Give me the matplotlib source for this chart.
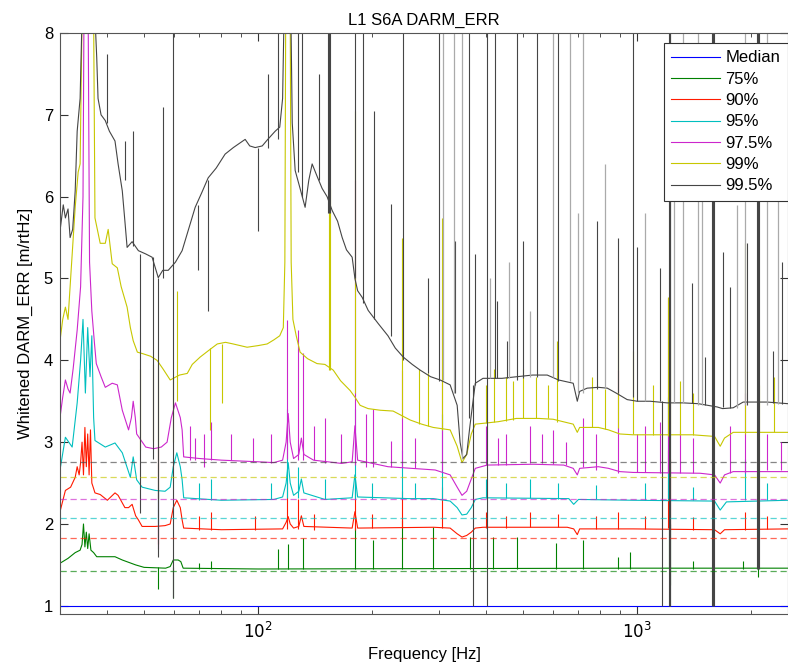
import numpy as np
import matplotlib
matplotlib.use('Agg')
import matplotlib.pyplot as plt
from matplotlib.ticker import LogLocator, NullFormatter, FixedLocator

plt.rcParams['font.family'] = ['Liberation Sans', 'DejaVu Sans']
plt.rcParams['font.size'] = 12

# --- Daten ---
labels = ['Median', '75%', '90%', '95%', '97.5%', '99%', '99.5%']

# Referenzwerte (gestrichelte Linien)
ref_levels = [1.42, 1.826, 2.07, 2.305, 2.577, 2.76]

p50 = [(30, 1.0), (2500, 1.0)]

p75 = [(30, 1.52), (31.5, 1.58), (32.9, 1.65), (33.9, 1.68), (34.3, 1.75), (34.6, 2.0), (34.9, 1.72),
       (35.2, 1.9), (35.5, 1.7), (35.8, 1.88), (36.2, 1.68), (36.8, 1.65), (37.5, 1.6), (41.9, 1.6),
       (43.8, 1.56), (47.5, 1.5), (50, 1.47), (57, 1.46), (58.6, 1.48), (59.7, 1.56), (61.5, 1.56),
       (62.5, 1.54), (63.4, 1.46), (100, 1.45), (1000, 1.46), (2500, 1.46)]

p90 = [(30, 2.15), (31.0, 2.41), (32.0, 2.45), (32.9, 2.57), (33.3, 2.7), (33.7, 2.6), (34.0, 2.75),
       (34.3, 3.0), (34.6, 2.6), (34.9, 3.18), (35.2, 2.7), (35.5, 3.1), (35.8, 2.6), (36.1, 3.15),
       (36.4, 2.5), (36.7, 2.45), (37.1, 2.38), (38.3, 2.36), (40.0, 2.29), (41.9, 2.38), (42.7, 2.35),
       (44.5, 2.2), (45.5, 2.2), (46.5, 2.24), (47.5, 2.1), (48.3, 2.05), (49.4, 1.97), (53.5, 1.97),
       (56.8, 1.98), (58.6, 2.0), (59.7, 2.2), (61, 2.29), (62.3, 2.2), (63.0, 2.05), (63.6, 1.95),
       (80, 1.93), (116, 1.94), (118.5, 2.02), (120, 2.09), (121.5, 2.0), (124, 1.95), (128, 1.97),
       (130, 2.1), (132, 1.97), (177, 1.95), (180, 2.15), (183, 1.95), (290, 1.96), (321, 1.95),
       (335, 1.88), (345, 1.84), (355, 1.86), (365, 1.9), (374, 1.95), (392, 1.96), (654, 1.96),
       (680, 1.94), (695, 1.87), (705, 1.94), (975, 1.94), (1600, 1.93), (1656, 1.88), (1700, 1.93),
       (2500, 1.94)]

p95 = [(30, 2.66), (31.0, 3.06), (32.3, 2.94), (33.3, 3.48), (34.0, 4.0), (34.5, 4.5), (35.0, 3.6),
       (35.5, 4.4), (36.0, 3.8), (36.4, 4.3), (36.8, 3.3), (37.1, 3.02), (39.5, 2.94), (41.9, 2.99),
       (43.8, 2.87), (46.0, 2.57), (46.8, 2.82), (47.8, 2.54), (49.4, 2.45), (53.5, 2.41), (56.8, 2.4),
       (58.6, 2.45), (59.7, 2.7), (61.0, 2.87), (62.3, 2.7), (63.0, 2.54), (63.6, 2.32), (80, 2.29),
       (110, 2.3), (116, 2.33), (118.5, 2.5), (120, 2.75), (121.5, 2.5), (124, 2.35), (128, 2.4),
       (130, 2.55), (132, 2.38), (150, 2.3), (177, 2.32), (180, 2.6), (183, 2.33), (250, 2.31),
       (290, 2.31), (321, 2.28), (335, 2.2), (345, 2.11), (355, 2.12), (365, 2.2), (374, 2.3),
       (392, 2.32), (660, 2.31), (680, 2.24), (700, 2.3), (975, 2.29), (1600, 2.28), (1656, 2.17),
       (1720, 2.27), (2500, 2.29)]

p975 = [(30, 3.3), (30.5, 3.55), (31.0, 3.76), (31.5, 3.65), (31.9, 3.6), (32.5, 3.9), (33.3, 4.37),
        (34.0, 4.9), (34.5, 6.0), (34.7, 8.2), (35.6, 8.2), (35.9, 5.2), (36.4, 4.6), (37.0, 4.2),
        (37.4, 3.96), (38.5, 3.8), (39.5, 3.67), (40.5, 3.7), (41.2, 3.72), (42.5, 3.7), (43.8, 3.39),
        (45.5, 3.15), (46.3, 3.3), (46.8, 3.5), (47.4, 3.3), (47.8, 3.1), (50.5, 2.94), (53, 2.92),
        (55.5, 2.94), (57.5, 3.0), (59, 3.3), (60.5, 3.48), (62.3, 3.3), (63.0, 3.15), (63.6, 2.82),
        (70, 2.8), (80, 2.78), (100, 2.76), (110, 2.75), (116, 2.78), (118.5, 3.0), (120, 3.35),
        (121.5, 3.0), (124, 2.8), (128, 2.85), (130, 3.05), (132, 2.85), (140, 2.78), (166, 2.74),
        (177, 2.76), (180, 3.2), (183, 2.78), (220, 2.7), (293, 2.66), (321, 2.6), (335, 2.45),
        (345, 2.35), (355, 2.4), (365, 2.55), (374, 2.68), (402, 2.72), (532, 2.73), (640, 2.72),
        (678, 2.68), (695, 2.6), (705, 2.68), (790, 2.7), (840, 2.68), (900, 2.64), (975, 2.63),
        (1466, 2.62), (1600, 2.6), (1656, 2.5), (1700, 2.6), (1792, 2.64), (2500, 2.64)]

p99 = [(30, 4.24), (30.5, 4.5), (31.0, 4.65), (31.5, 4.5), (32.0, 5.0), (32.9, 5.87), (33.5, 6.3),
       (33.9, 6.4), (34.3, 8.2), (36.8, 8.2), (37.1, 5.74), (38.3, 5.43), (39.5, 5.43), (40.2, 5.6),
       (41.2, 5.18), (42.5, 5.13), (43.5, 4.9), (45.1, 4.65), (46.0, 4.4), (46.8, 4.24), (48, 4.1),
       (49.7, 4.08), (52, 4.05), (54.1, 4.0), (56, 3.9), (58.6, 3.76), (62, 3.82), (65.0, 3.84),
       (67, 3.95), (70.3, 4.04), (74, 4.12), (78.0, 4.2), (82, 4.22), (85.9, 4.2), (93.5, 4.16),
       (100, 4.18), (105.6, 4.2), (110, 4.25), (114, 4.3), (116.5, 4.4), (117.6, 5.2), (118.2, 8.2),
       (121.5, 8.2), (122.2, 5.2), (123.5, 4.5), (126, 4.3), (129, 4.1), (135, 4.02),
       (143, 3.96), (150, 3.95), (157.8, 3.88), (165, 3.75), (174.9, 3.63), (180, 3.55), (185.8, 3.45),
       (195, 3.41), (210, 3.39), (227, 3.38), (252, 3.27), (270, 3.22), (289.5, 3.18), (321, 3.15),
       (335, 2.95), (345, 2.75), (355, 2.85), (365, 3.1), (374, 3.22), (392, 3.23), (430, 3.25),
       (480, 3.29), (550, 3.29), (600, 3.28), (678, 3.22), (695, 3.12), (705, 3.18), (790, 3.18),
       (840, 3.15), (900, 3.1), (975, 3.09), (1100, 3.09), (1400, 3.09), (1600, 3.07), (1656, 2.95),
       (1700, 3.05), (1792, 3.12), (2200, 3.12), (2500, 3.12)]

p995 = [(30, 5.58), (30.6, 5.9), (31.0, 5.74), (31.5, 5.85), (31.9, 5.5), (32.4, 5.6), (32.9, 6.07),
        (33.3, 6.8), (33.9, 7.2), (34.3, 8.2), (37.1, 8.2), (37.5, 7.7), (37.8, 7.2), (38.5, 7.0),
        (39.5, 6.93), (40.5, 6.8), (41.9, 6.68), (42.7, 6.4), (43.8, 6.07), (44.5, 5.7), (45.1, 5.38),
        (46.5, 5.45), (48.3, 5.34), (50.5, 5.3), (52.5, 5.26), (54.5, 5.01), (56, 5.1), (57.9, 5.1),
        (60.5, 5.2), (63.0, 5.34), (65.5, 5.6), (68.2, 5.87), (71, 6.05), (73.8, 6.23), (77.5, 6.35),
        (81.8, 6.52), (86, 6.6), (92.4, 6.70), (95, 6.62), (98.2, 6.6), (102.5, 6.62), (106, 6.7),
        (110.9, 6.8), (114, 6.85), (116, 7.2), (117, 8.2), (122, 8.2), (123, 6.9), (125.2, 6.32),
        (129, 6.1), (133.0, 5.87), (136, 6.2), (138.8, 6.4), (143, 6.25), (147.5, 6.1), (152, 6.0),
        (156.8, 5.83), (162, 5.7), (166.6, 5.5), (171, 5.35), (177.0, 5.26), (180, 5.0), (183, 4.85),
        (188.1, 4.77), (195.1, 4.61), (207.3, 4.45), (220, 4.3), (230, 4.15), (241.4, 4.04), (255, 3.95),
        (267.6, 3.88), (285, 3.8), (302, 3.76), (321, 3.7), (335, 3.45), (341, 3.0), (347, 2.8),
        (355, 2.85), (362, 3.2), (374, 3.72), (392, 3.78), (440, 3.78), (482, 3.8), (530, 3.82),
        (579, 3.82), (620, 3.76), (678, 3.72), (695, 3.5), (705, 3.62), (738, 3.66), (790, 3.67),
        (834, 3.66), (880, 3.6), (941, 3.52), (1000, 3.5), (1082, 3.5), (1200, 3.48), (1322, 3.48),
        (1450, 3.47), (1626, 3.43), (1680, 3.41), (1792, 3.42), (1904, 3.49), (2203, 3.49), (2500, 3.47)]

# Linien / Spikes: (Frequenz, unten, oben)
s75 = [(54.5, 1.2, 1.47), (59.7, 1.1, 1.47), (70, 1.45, 1.52), (75, 1.45, 1.55), (113, 1.45, 1.7),
       (120, 1.45, 1.75), (131, 1.45, 1.83), (180, 1.45, 1.96), (201, 1.45, 1.8), (240, 1.45, 2.05),
       (290, 1.45, 1.96), (362, 1.45, 1.84), (417, 1.45, 1.84), (482, 1.45, 1.84), (610, 1.45, 1.77),
       (720, 1.45, 1.8), (890, 1.45, 1.6), (960, 1.45, 1.66), (1215, 1.45, 2.05), (1221, 1.25, 2.0),
       (1586, 1.3, 2.29), (2084, 1.35, 2.05), (1400, 1.45, 1.55), (1900, 1.45, 1.55)]

s90 = [(54.5, 1.75, 1.97), (70, 1.93, 2.1), (75, 1.93, 2.15), (98, 1.93, 2.1), (119.5, 1.94, 2.5),
       (127.5, 1.94, 2.3), (140, 1.93, 2.12), (180, 1.93, 2.54), (200, 1.95, 2.12), (240, 1.95, 2.4),
       (306, 1.95, 2.45), (400, 1.95, 2.15), (450, 1.95, 2.1), (520, 1.96, 2.15), (620, 1.96, 2.12),
       (780, 1.94, 2.1), (890, 1.94, 2.15), (1050, 1.94, 2.1), (1207, 1.95, 2.9), (1220, 1.95, 2.8),
       (1400, 1.93, 2.08), (1586, 1.94, 2.7), (1922, 1.93, 2.15), (2084, 1.95, 2.5), (2200, 1.94, 2.1)]

s95 = [(54.5, 2.0, 2.41), (70, 2.29, 2.5), (75, 2.29, 2.55), (108, 2.3, 2.5), (119.5, 2.32, 3.4),
       (127.5, 2.32, 2.7), (150, 2.3, 2.55), (180, 2.3, 3.4), (200, 2.31, 2.5), (240, 2.3, 2.9),
       (260, 2.31, 2.5), (306, 2.3, 3.35), (400, 2.32, 2.55), (450, 2.32, 2.5), (520, 2.32, 2.55),
       (620, 2.31, 2.5), (780, 2.3, 2.48), (1050, 2.29, 2.5), (1207, 2.3, 3.55), (1400, 2.29, 2.45),
       (1586, 2.29, 3.18), (1922, 2.29, 2.8), (2200, 2.29, 2.5)]

s975 = [(54.5, 1.7, 2.94), (66, 2.78, 3.2), (68, 2.78, 3.05), (72, 2.7, 3.1), (75, 2.78, 3.25),
        (85, 2.78, 3.1), (97, 2.76, 3.05), (108, 2.74, 3.1), (119.5, 2.8, 4.49), (127.5, 2.78, 4.37),
        (131, 2.78, 4.09), (140, 2.78, 3.2), (150, 2.75, 3.3), (165, 2.75, 3.1), (180, 2.72, 6.2),
        (192, 2.7, 3.35), (201, 2.7, 3.4), (224, 2.7, 3.02), (240, 2.7, 3.88), (260, 2.68, 3.05),
        (306, 2.65, 4.5), (400, 2.72, 3.2), (450, 2.72, 3.1), (520, 2.74, 3.2), (560, 2.74, 3.1),
        (650, 2.72, 3.0), (780, 2.66, 3.1), (890, 2.62, 3.88), (1050, 2.63, 3.2), (1207, 2.62, 4.76),
        (1400, 2.62, 3.05), (1586, 2.6, 4.33), (1922, 2.62, 3.6), (2200, 2.66, 3.1), (2400, 2.66, 3.0),
        (430, 2.72, 3.05), (600, 2.73, 3.15), (720, 2.7, 3.3), (1000, 2.63, 3.1), (1150, 2.62, 3.25),
        (1300, 2.62, 3.15), (1760, 2.62, 3.2)]

s99 = [(48.8, 2.9, 3.9), (52.8, 3.02, 3.95), (54.5, 2.3, 3.95), (59.7, 3.0, 3.8), (61, 3.5, 4.85),
       (74.7, 3.15, 4.15), (80.3, 3.48, 4.2), (154, 3.88, 6.1), (155, 3.88, 6.1), (180, 3.6, 7.05),
       (240, 3.3, 5.5), (265, 3.22, 3.9), (280, 3.2, 3.85), (306, 3.15, 5.74), (420, 3.25, 3.9),
       (450, 3.26, 3.8), (500, 3.29, 3.9), (540, 3.29, 3.8), (616, 3.25, 4.24), (760, 3.18, 3.8),
       (890, 3.17, 4.37), (975, 3.1, 4.12), (1100, 3.09, 3.7), (1207, 3.08, 4.77), (1218, 3.08, 4.5),
       (1300, 3.09, 3.75), (1586, 3.02, 5.01), (1922, 3.1, 5.43), (2300, 3.12, 3.8),
       (400, 3.24, 3.7), (470, 3.27, 3.75), (580, 3.29, 3.7), (820, 3.16, 3.65), (1400, 3.09, 3.6),
       (2100, 3.12, 3.7)]

s995 = [(40, 6.9, 7.74), (44.5, 6.2, 6.68), (46.8, 5.4, 6.8), (48.8, 2.13, 5.3), (52.8, 2.8, 5.26),
        (54.5, 1.6, 5.0), (56, 5.0, 7.1), (59.7, 1.1, 8.2), (69.5, 5.1, 5.9), (73.8, 4.6, 6.2),
        (100, 5.58, 6.6), (106, 6.6, 7.5), (112.9, 6.7, 8.2), (127.5, 6.3, 8.2), (130.6, 6.0, 8.2),
        (145, 6.2, 7.5), (153, 5.8, 8.2), (154, 5.8, 8.2), (155, 5.8, 8.2), (180, 5.0, 8.2),
        (189, 4.7, 8.2), (202, 4.5, 7.05), (224, 4.3, 5.91), (241, 4.0, 8.2), (281, 3.85, 5.01),
        (300, 3.75, 8.2), (331, 3.6, 5.46), (360, 3.3, 8.2), (369, 1.0, 3.7), (374, 3.7, 5.3),
        (402, 1.0, 8.2), (422, 3.78, 8.2), (427, 3.78, 4.73), (454, 3.78, 4.24), (482, 3.76, 8.2),
        (500, 3.78, 5.46), (544, 3.8, 8.2), (619, 3.75, 8.2), (785, 3.65, 5.7), (891, 3.6, 5.5),
        (975, 3.55, 8.2), (1000, 3.5, 5.38), (1150, 3.5, 5.13), (1166, 1.0, 3.5), (1212, 1.0, 8.2),
        (1218, 1.0, 8.2), (1224, 1.0, 8.2), (1397, 3.48, 4.95), (1511, 3.45, 4.04), (1578, 1.0, 8.2),
        (1586, 1.0, 8.2), (1594, 1.0, 8.2), (1686, 3.43, 5.32), (1760, 3.42, 4.89), (1951, 3.45, 5.43),
        (2075, 1.45, 8.2), (2084, 1.45, 8.2), (2093, 1.45, 8.2), (2285, 3.48, 4.12), (2413, 3.47, 5.2)]

# blasse (graue) Linien bis oben
faint = [(307, 3.76, 8.2), (329, 3.6, 8.2), (345, 2.8, 8.2), (600, 3.8, 8.2), (666, 3.75, 8.2),
         (720, 3.6, 8.2), (1322, 3.48, 8.2), (1448, 3.45, 8.2), (1922, 3.45, 8.2), (2203, 3.45, 8.2),
         (410, 3.78, 5.0), (460, 3.78, 5.2), (520, 3.8, 4.6), (700, 3.6, 5.8), (820, 3.66, 6.4),
         (1050, 3.5, 5.8), (1250, 3.48, 6.3), (1480, 3.45, 6.9), (1830, 3.42, 5.9), (2350, 3.47, 6.2)]

series = [p50, p75, p90, p95, p975, p99, p995]
spikes = [[], s75, s90, s95, s975, s99, s995]
colors = [(0, 0, 1), (0, 0.5, 0), (1, 0.1, 0), (0, 0.75, 0.75), (0.8, 0.15, 0.8),
          (0.78, 0.78, 0), (0.27, 0.27, 0.27)]

fig = plt.figure(figsize=(7.88, 6.68), dpi=100)
ax = fig.add_axes([60 / 788, 1 - 614 / 668, 728 / 788, 581 / 668])

handles = []
for pts, spk, col, lab in zip(series, spikes, colors, labels):
    f, v = zip(*pts)
    h, = ax.plot(f, v, color=col, lw=0.8, label=lab)
    handles.append(h)
    if spk:
        sf, slo, shi = zip(*spk)
        ax.vlines(sf, slo, shi, color=col, lw=0.8)

ff, flo, fhi = zip(*faint)
ax.vlines(ff, flo, fhi, color='#aaaaaa', lw=0.9)

for lvl, col in zip(ref_levels, colors[1:]):
    ax.axhline(lvl, color=col, lw=0.9, ls=(0, (5, 3)), alpha=0.65)

ax.set_xscale('log')
ax.set_xlim(30, 2500)
ax.set_ylim(0.9, 8)
ax.set_yticks(range(1, 9))
ax.xaxis.set_major_locator(FixedLocator([100, 1000]))
ax.set_xticklabels(['$10^2$', '$10^3$'])
ax.xaxis.set_minor_locator(LogLocator(base=10, subs=np.arange(2, 10)))
ax.xaxis.set_minor_formatter(NullFormatter())
ax.tick_params(which='both', direction='in', top=True, right=True, colors='#333333', labelcolor='black')
ax.tick_params(which='major', length=6, labelsize=12, pad=5)
ax.tick_params(which='minor', length=3)
for s in ax.spines.values():
    s.set_color('#555555')

ax.set_title('L1 S6A DARM_ERR', fontsize=12, pad=6)
ax.set_xlabel('Frequency [Hz]', fontsize=12, labelpad=4)
ax.set_ylabel('Whitened DARM_ERR [m/rtHz]', fontsize=12, labelpad=8)

leg = ax.legend(handles=handles, loc='upper right', bbox_to_anchor=(1.0, 1 - 10 / 581),
                borderaxespad=0, fontsize=12, fancybox=False, framealpha=1, edgecolor='#333333',
                handlelength=2.9, handletextpad=0.35, labelspacing=0.38, borderpad=0.45)
leg.get_frame().set_linewidth(0.8)

fig.savefig('out.png', dpi=100)
